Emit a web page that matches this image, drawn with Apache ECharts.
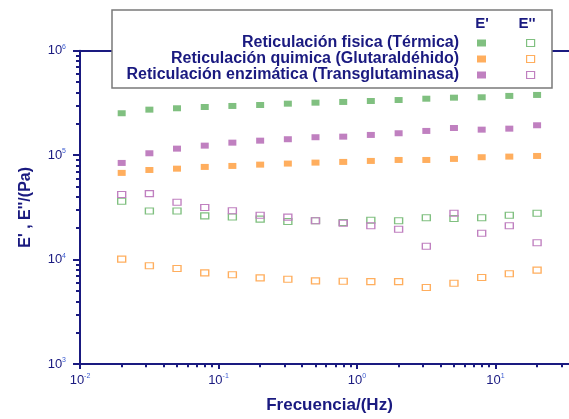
<!DOCTYPE html>
<html lang="es">
<head>
  <meta charset="UTF-8">
  <title>E', E'' vs frecuencia</title>
  <script src="https://cdn.jsdelivr.net/npm/echarts@6/dist/echarts.min.js"></script>
  <style>
    * { margin: 0; padding: 0; box-sizing: border-box; }
    body { background: #fff; }
    #chart { width: 569px; height: 419px; }
  </style>
</head>
<body>
<div id="chart"></div>
<script>
// frecuencia (Hz)
const freq = [0.02, 0.0317, 0.0502, 0.0796, 0.126, 0.2, 0.317, 0.502, 0.796, 1.26, 2.0, 3.17, 5.02, 7.96, 12.6, 20];

// E' (Pa)
const fisicaE1 = [251800, 272600, 281000, 289000, 295700, 302000, 311000, 318000, 323000, 330000, 337000, 347000, 355000, 358000, 369000, 377000];
const quimicaE1 = [67600, 72100, 74200, 77100, 78800, 81100, 83000, 84800, 86100, 88000, 89900, 89900, 92000, 95500, 96800, 98200];
const enzimaE1 = [84200, 104200, 115400, 123300, 131700, 137600, 142000, 148400, 150300, 156100, 162000, 170500, 182000, 175400, 179300, 193200];

// E'' (Pa)
const fisicaE2 = [36200, 29200, 29200, 26200, 25600, 24400, 23100, 23500, 22600, 23800, 23500, 25200, 24700, 25200, 26600, 27800];
const quimicaE2 = [10100, 8710, 8200, 7460, 7140, 6680, 6490, 6250, 6210, 6150, 6150, 5390, 5940, 6730, 7300, 7920];
const enzimaE2 = [41900, 42800, 35400, 31500, 29400, 26600, 25500, 23500, 22300, 21100, 19500, 13400, 27800, 17900, 21100, 14500];

const names = ['Reticulación fisica (Térmica)', 'Reticulación quimica (Glutaraldéhido)', 'Reticulación enzimática (Transglutaminasa)'];
const colors = ['#80c080', '#ffae5e', '#c080c0'];

const xMajor = [0.01, 0.1, 1, 10];
const xMinor = [0.02,0.03,0.04,0.05,0.06,0.07,0.08,0.09, 0.2,0.3,0.4,0.5,0.6,0.7,0.8,0.9, 2,3,4,5,6,7,8,9, 20,30];
const yMajor = [1e3, 1e4, 1e5, 1e6];
const yMinor = [2e3,3e3,4e3,5e3,6e3,7e3,8e3,9e3, 2e4,3e4,4e4,5e4,6e4,7e4,8e4,9e4, 2e5,3e5,4e5,5e5,6e5,7e5,8e5,9e5];

const navy = '#1a1a80';
const font = '"Liberation Sans", Arial, sans-serif';

const pairs = v => freq.map((f, i) => [f, v[i]]);
const filled = [fisicaE1, quimicaE1, enzimaE1];
const open = [fisicaE2, quimicaE2, enzimaE2];

const series = [];
filled.forEach((d, i) => series.push({
  name: names[i], type: 'scatter', xAxisIndex: 0, yAxisIndex: 0,
  symbol: 'rect', symbolSize: [8, 6], data: pairs(d),
  itemStyle: { color: colors[i], opacity: 1 }
}));
open.forEach((d, i) => series.push({
  name: names[i] + ' E\'\'', type: 'scatter', xAxisIndex: 0, yAxisIndex: 0,
  symbol: 'rect', symbolSize: [8, 6], data: pairs(d),
  itemStyle: { color: 'rgba(255,255,255,0)', borderColor: colors[i], borderWidth: 1.2, opacity: 1 }
}));

const powLabel = v => {
  const e = Math.round(Math.log10(v));
  return '{b|10}{s|' + e + '}';
};
const labelRich = {
  b: { fontSize: 13, color: navy, fontFamily: font },
  s: { fontSize: 7, color: '#3a5ad0', fontFamily: font, padding: [0, 0, 8, 0] }
};

const chart = echarts.init(document.getElementById('chart'));
chart.setOption({
  animation: false,
  grid: [
    { left: 80, right: 0, top: 50.7, bottom: 54.8 },
    { left: 80, right: 0, top: 50.7, bottom: 54.8 }
  ],
  xAxis: [
    {
      type: 'log', gridIndex: 0, min: 0.01, max: 34, position: 'bottom',
      axisLine: { lineStyle: { color: navy, width: 2 } },
      axisTick: { customValues: xMajor, length: 5, lineStyle: { color: navy, width: 2 } },
      axisLabel: { customValues: xMajor, formatter: powLabel, rich: labelRich, margin: 9 },
      splitLine: { show: false },
      name: 'Frecuencia/(Hz)', nameLocation: 'middle', nameGap: 33,
      nameTextStyle: { color: navy, fontSize: 17, fontWeight: 'bold', fontFamily: font, padding: [0, 0, 0, 10] }
    },
    {
      type: 'log', gridIndex: 0, min: 0.01, max: 34, position: 'top',
      axisLine: { lineStyle: { color: navy, width: 2 } },
      axisTick: { show: false }, axisLabel: { show: false }, splitLine: { show: false }
    },
    {
      type: 'log', gridIndex: 1, min: 0.01, max: 34, position: 'bottom',
      axisLine: { show: false },
      axisTick: { customValues: xMinor, length: 3, lineStyle: { color: navy, width: 2 } },
      axisLabel: { show: false }, splitLine: { show: false }
    }
  ],
  yAxis: [
    {
      type: 'log', gridIndex: 0, min: 1e3, max: 1e6,
      axisLine: { lineStyle: { color: navy, width: 2 } },
      axisTick: { customValues: yMajor, length: 7, lineStyle: { color: navy, width: 2 } },
      axisLabel: { customValues: yMajor, formatter: powLabel, rich: labelRich, margin: 14 },
      splitLine: { show: false },
      name: 'E\' , E\'\'/(Pa)', nameLocation: 'middle', nameGap: 46, nameRotate: 90,
      nameTextStyle: { color: navy, fontSize: 16, fontWeight: 'bold', fontFamily: font }
    },
    {
      type: 'log', gridIndex: 1, min: 1e3, max: 1e6,
      axisLine: { show: false },
      axisTick: { customValues: yMinor, length: 4, lineStyle: { color: navy, width: 2 } },
      axisLabel: { show: false }, splitLine: { show: false }
    }
  ],
  legend: [
    {
      data: names, orient: 'vertical', align: 'right',
      right: 78, top: 30, itemGap: 0, itemWidth: 9, itemHeight: 7,
      icon: 'rect',
      textStyle: { color: navy, fontSize: 16, fontWeight: 'bold', fontFamily: font, lineHeight: 16, padding: [0, 13, 0, 0] },
      selectedMode: false, z: 5
    },
    {
      data: names.map((n, i) => ({
        name: n + ' E\'\'', icon: 'rect',
        itemStyle: { color: '#fff', borderColor: colors[i], borderWidth: 1.2 }
      })),
      orient: 'vertical', left: 521, top: 30, itemGap: 0, itemWidth: 8, itemHeight: 7,
      formatter: () => ' ',
      textStyle: { fontSize: 13, lineHeight: 16 },
      selectedMode: false, z: 5
    }
  ],
  graphic: [
    {
      type: 'rect', shape: { x: 112, y: 10, width: 440, height: 78 }, z: 3,
      style: { fill: '#fff', stroke: '#7a7a7a', lineWidth: 1.5 }
    },
    {
      type: 'text', x: 482, y: 24, z: 5,
      style: { text: 'E\'', fill: navy, font: 'bold 15px ' + font, align: 'center', verticalAlign: 'middle' }
    },
    {
      type: 'text', x: 527, y: 24, z: 5,
      style: { text: 'E\'\'', fill: navy, font: 'bold 15px ' + font, align: 'center', verticalAlign: 'middle' }
    }
  ],
  series: series
});
</script>
</body>
</html>
